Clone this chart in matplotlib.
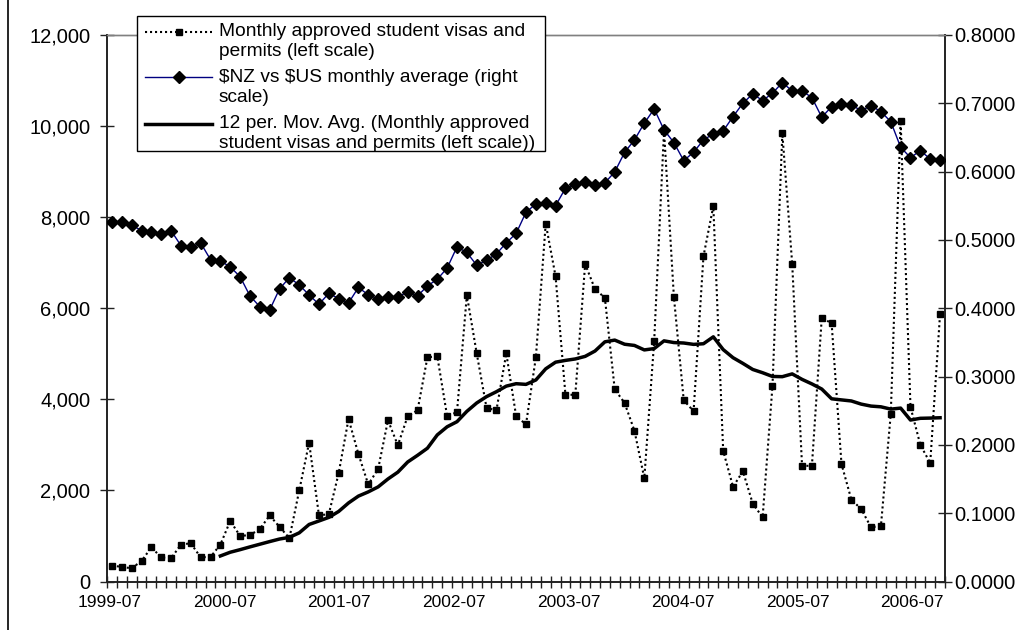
import matplotlib
matplotlib.use("Agg")
import matplotlib.pyplot as plt
import matplotlib.ticker as mticker
from matplotlib.lines import Line2D
from matplotlib.patches import Rectangle
import numpy as np
import pandas as pd

plt.rcParams['font.family'] = ['Liberation Sans', 'DejaVu Sans']

# ---- data (monthly, 1999-07 .. 2006-07) ----
months = pd.period_range("1999-07", "2006-07", freq="M").strftime("%Y-%m").tolist()

visas = [350, 320, 290, 450, 750, 530, 510, 810, 840, 530, 540, 810,
         1330, 1000, 1020, 1150, 1450, 1200, 950, 2000, 3050, 1450, 1480, 2380,
         3570, 2800, 2130, 2470, 3540, 2990, 3630, 3760, 4920, 4950, 3630, 3720,
         6290, 5010, 3810, 3760, 5010, 3630, 3450, 4920, 7860, 6700, 4100, 4100,
         6970, 6420, 6230, 4220, 3920, 3310, 2270, 5270, 9900, 6250, 3980, 3740,
         7140, 8240, 2870, 2080, 2420, 1710, 1410, 4290, 9840, 6980, 2540, 2540,
         5790, 5670, 2580, 1800, 1590, 1190, 1220, 3680, 10110, 3830, 3000, 2600,
         5880]

nzd_usd = [0.5264, 0.5264, 0.5220, 0.5136, 0.5117, 0.5083, 0.5136, 0.4917, 0.4893, 0.4956, 0.4712, 0.4693,
           0.4605, 0.4463, 0.4180, 0.4024, 0.3975, 0.4283, 0.4448, 0.4341, 0.4195, 0.4058, 0.4219, 0.4141,
           0.4078, 0.4304, 0.4197, 0.4136, 0.4161, 0.4161, 0.4243, 0.4180, 0.4327, 0.4424, 0.4588, 0.4898,
           0.4817, 0.4629, 0.4703, 0.4795, 0.4958, 0.5095, 0.5406, 0.5527, 0.5546, 0.5502, 0.5756, 0.5812,
           0.5844, 0.5810, 0.5836, 0.5995, 0.6281, 0.6464, 0.6709, 0.6918, 0.6611, 0.6425, 0.6161, 0.6284,
           0.6464, 0.6552, 0.6596, 0.6805, 0.7001, 0.7138, 0.7040, 0.7148, 0.7303, 0.7182, 0.7182, 0.7084,
           0.6796, 0.6952, 0.6991, 0.6977, 0.6893, 0.6966, 0.6878, 0.6732, 0.6357, 0.6205, 0.6307, 0.6186,
           0.6171]

x_labels = ["1999-07", "2000-07", "2001-07", "2002-07", "2003-07", "2004-07", "2005-07", "2006-07"]
left_ticks = [0, 2000, 4000, 6000, 8000, 10000, 12000]
right_ticks = [0.0, 0.1, 0.2, 0.3, 0.4, 0.5, 0.6, 0.7, 0.8]

legend_labels = ["Monthly approved student visas and\npermits (left scale)",
                 "\\$NZ vs \\$US monthly average (right\nscale)",
                 "12 per. Mov. Avg. (Monthly approved\nstudent visas and permits (left scale))"]

# 12-period moving average trendline (as in the spreadsheet chart)
mov_avg = pd.Series(visas).rolling(12).mean()

W, H = 1022, 630
fig = plt.figure(figsize=(W / 100, H / 100), dpi=100)
fig.patch.set_facecolor("white")

def fx(px):
    return px / W

def fy(py):
    return 1 - py / H

AX_L, AX_R, AX_T, AX_B = 107, 945, 35, 581.5
ax = fig.add_axes([fx(AX_L), fy(AX_B), fx(AX_R) - fx(AX_L), fy(AX_T) - fy(AX_B)])
ax2 = ax.twinx()

n = len(months)
x = np.arange(n)

# visas (dotted with squares)
ax.plot(x, visas, color="black", lw=1.5, linestyle=(0, (1, 1.4)),
        marker="s", ms=4.2, mfc="black", mec="black", zorder=3)
# moving average
ax.plot(x, mov_avg, color="black", lw=2.5, solid_joinstyle="round", zorder=4)
# exchange rate
ax2.plot(x, nzd_usd, color="#000080", lw=1.0, marker="D", ms=5.8,
         mfc="black", mec="black", zorder=3)

ax.set_xlim(-0.5, n - 0.5)
ax.set_ylim(0, 12000)
ax2.set_ylim(0, 0.8)

ax.set_yticks(left_ticks)
ax.yaxis.set_major_formatter(mticker.FuncFormatter(lambda v, p: f"{v:,.0f}"))
ax2.set_yticks(right_ticks)
ax2.yaxis.set_major_formatter(mticker.FuncFormatter(lambda v, p: f"{v:.4f}"))

# category labels: placed where the original spreadsheet draws them
px_per_cat = (AX_R - AX_L) / n
label_px = 110 + 114.6 * np.arange(len(x_labels))
label_pos = (label_px - AX_L) / px_per_cat - 0.5
ax.set_xticks(label_pos)
ax.set_xticklabels(x_labels)
ax.set_xticks(np.arange(-0.5, n, 1.0), minor=True)

ax.tick_params(axis="x", which="major", length=0, pad=10, labelsize=12.5)
ax.tick_params(axis="x", which="minor", direction="inout", length=8, width=1, color="#222222")
ax.tick_params(axis="y", direction="inout", length=10, width=1, color="#222222",
               labelsize=14.5, pad=7)
ax2.tick_params(axis="y", direction="inout", length=10, width=1, color="#222222",
                labelsize=14.5, pad=2)

for a in (ax, ax2):
    for s in ("left", "right", "bottom"):
        a.spines[s].set_color("#222222")
        a.spines[s].set_linewidth(1.2)
    a.spines["top"].set_color("#808080")
    a.spines["top"].set_linewidth(1.0)

# ---- legend (drawn manually, handles aligned with first text line) ----
LFS = 13.8
box = Rectangle((fx(137), fy(151)), fx(545) - fx(137), fy(16) - fy(151),
                transform=fig.transFigure, facecolor="white", edgecolor="black",
                lw=1.0, zorder=10)
fig.add_artist(box)

entry_y = [32, 77, 124]
line_gap = 20
hx0, hx1, tx = 145, 212, 219
styles = [dict(color="black", lw=1.5, linestyle=(0, (1, 1.4))),
          dict(color="#000080", lw=1.0),
          dict(color="black", lw=2.5)]
markers = [dict(marker="s", ms=4.2), dict(marker="D", ms=5.8), None]
for lbl, yy, st, mk in zip(legend_labels, entry_y, styles, markers):
    fig.add_artist(Line2D([fx(hx0), fx(hx1)], [fy(yy), fy(yy)], transform=fig.transFigure,
                          zorder=11, **st))
    if mk is not None:
        fig.add_artist(Line2D([fx((hx0 + hx1) / 2)], [fy(yy)], transform=fig.transFigure,
                              linestyle="none", mfc="black", mec="black", zorder=12, **mk))
    for k, line in enumerate(lbl.split("\n")):
        fig.text(fx(tx), fy(yy + k * line_gap), line, fontsize=LFS, va="center", ha="left",
                 zorder=12)

# outer chart-area border (left edge)
fig.add_artist(Line2D([fx(8), fx(8)], [0, 1], transform=fig.transFigure, color="black", lw=1.2))

fig.savefig("out.png", dpi=100)
